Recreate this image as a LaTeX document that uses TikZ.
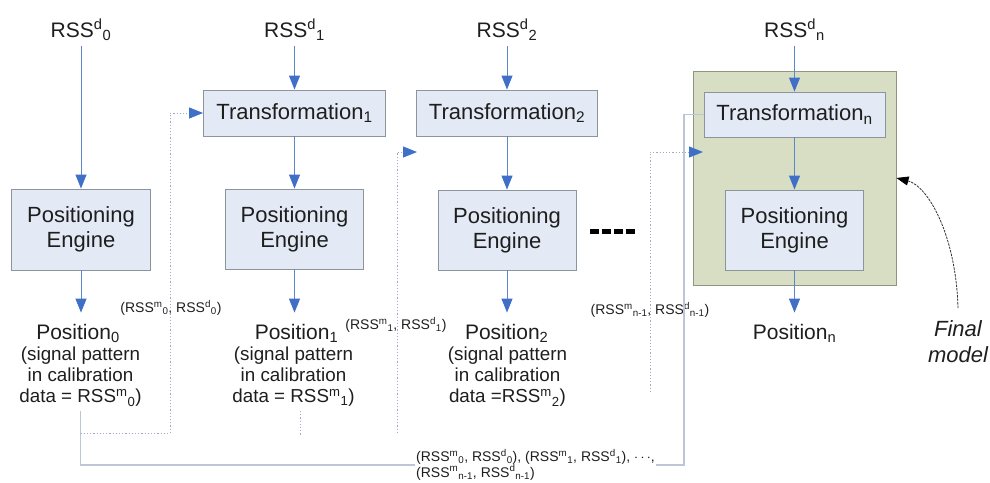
\documentclass[tikz,border=0pt]{standalone}
\usepackage{fontspec}
\setmainfont{Liberation Sans}
\usetikzlibrary{arrows.meta}
\definecolor{boxfill}{HTML}{E4EAF5}
\definecolor{boxline}{HTML}{8C949E}
\definecolor{greenfill}{HTML}{D8DEC4}
\definecolor{greenline}{HTML}{8E967E}
\definecolor{flowblue}{HTML}{5A86CC}
\definecolor{tipblue}{HTML}{3F6FC6}
\definecolor{routegray}{HTML}{BCC6D6}
\definecolor{dotgray}{HTML}{9DAAC6}
\definecolor{inkc}{HTML}{1E1E1E}
\begin{document}
\begin{tikzpicture}[x=1pt,y=-1pt,
  every node/.style={text=inkc},
  box/.style={draw=boxline, fill=boxfill, line width=0.9pt, inner sep=0pt, align=center, font=\fontsize{22}{25}\selectfont},
  greenbox/.style={draw=greenline, fill=greenfill, line width=1pt, inner sep=0pt},
  rss/.style={inner sep=0pt, anchor=base, font=\fontsize{21}{24}\selectfont},
  poslabel/.style={inner sep=0pt, anchor=base, font=\fontsize{21}{24}\selectfont},
  desc/.style={inner sep=0pt, anchor=north, align=center, font=\fontsize{18.8}{21}\selectfont},
  pair/.style={inner sep=0pt, font=\fontsize{14}{17}\selectfont},
  flow/.style={draw=flowblue, line width=1pt, -{Triangle[length=14pt,width=11pt,color=tipblue]}},
  route/.style={draw=routegray, line width=1.3pt},
  dotroute/.style={draw=dotgray, line width=1pt, dash pattern=on 1.2pt off 2pt},
  dotarrow/.style={dotroute, -{Triangle[length=14pt,width=11pt,color=tipblue]}},
  finalarrow/.style={draw=black!80, line width=0.8pt, dash pattern=on 2.5pt off 1pt, -{Triangle[length=12pt,width=9pt,color=black]}}
]
\useasboundingbox (0,0) rectangle (990,482);

% final model frame
\node[greenbox, minimum width=203pt, minimum height=214pt] (green) at (794.5,178) {};

% processing boxes
\node[box, minimum width=139pt, minimum height=81pt] (pe0) at (81,229.5) {Positioning\\Engine};
\node[box, minimum width=182pt, minimum height=46pt] (tr1) at (294.5,113) {Transformation\textsubscript{1}};
\node[box, minimum width=138pt, minimum height=80pt] (pe1) at (294.5,229) {Positioning\\Engine};
\node[box, minimum width=181pt, minimum height=46pt] (tr2) at (507,113) {Transformation\textsubscript{2}};
\node[box, minimum width=138pt, minimum height=80pt] (pe2) at (507,230) {Positioning\\Engine};
\node[box, minimum width=181pt, minimum height=45pt] (trn) at (794.5,114.5) {Transformation\textsubscript{n}};
\node[box, minimum width=138pt, minimum height=80pt] (pen) at (794.5,230) {Positioning\\Engine};

% inputs
\node[rss] (rss0) at (81,37.5) {RSS\textsuperscript{d}\textsubscript{0}};
\node[rss] (rss1) at (294.5,37.5) {RSS\textsuperscript{d}\textsubscript{1}};
\node[rss] (rss2) at (507,37.5) {RSS\textsuperscript{d}\textsubscript{2}};
\node[rss] (rssn) at (794.5,37.5) {RSS\textsuperscript{d}\textsubscript{n}};

% outputs
\node[poslabel] (pos0) at (78,339) {Position\textsubscript{0}};
\node[poslabel] (pos1) at (296.5,339) {Position\textsubscript{1}};
\node[poslabel] (pos2) at (506.7,339) {Position\textsubscript{2}};
\node[poslabel] (posn) at (794.5,339) {Position\textsubscript{n}};
\node[desc] (desc0) at (80.5,347) {(signal pattern\\in calibration\\data = RSS\textsuperscript{m}\textsubscript{0})};
\node[desc] (desc1) at (293.5,347) {(signal pattern\\in calibration\\data = RSS\textsuperscript{m}\textsubscript{1})};
\node[desc] (desc2) at (507.5,347) {(signal pattern\\in calibration\\data =RSS\textsuperscript{m}\textsubscript{2})};

% pair labels
\node[pair] (pl0) at (171,308) {(RSS\textsuperscript{m}\textsubscript{0}, RSS\textsuperscript{d}\textsubscript{0})};
\node[pair] (pl1) at (396,325) {(RSS\textsuperscript{m}\textsubscript{1}, RSS\textsuperscript{d}\textsubscript{1})};
\node[pair] (pln) at (650,310) {(RSS\textsuperscript{m}\textsubscript{n-1}, RSS\textsuperscript{d}\textsubscript{n-1})};

% ellipsis
\node[minimum width=45pt, minimum height=5pt, inner sep=0pt,
  path picture={\draw[black, line width=5pt, dash pattern=on 9pt off 3pt]
    (path picture bounding box.west) -- (path picture bounding box.east);}] (ellipsis) at (612.5,231) {};

% final model label
\node[inner sep=0pt, anchor=north, align=center, font=\fontsize{22}{26}\itshape\selectfont] (fm) at (958,320) {Final\\model};

% main flow arrows
\draw[flow, shorten <=5pt] (rss0.south) -- (pe0.north);
\draw[flow, shorten <=5pt] (rss1.south) -- (tr1.north);
\draw[flow] (tr1.south) -- (pe1.north);
\draw[flow, shorten <=5pt] (rss2.south) -- (tr2.north);
\draw[flow] (tr2.south) -- (pe2.north);
\draw[flow, shorten <=5pt] (rssn.south) -- (trn.north);
\draw[flow] (trn.south) -- (pen.north);
\draw[flow, shorten >=11pt] (pe0.south) -- (pe0.south |- pos0.north);
\draw[flow, shorten >=11pt] (pe1.south) -- (pe1.south |- pos1.north);
\draw[flow, shorten >=11pt] (pe2.south) -- (pe2.south |- pos2.north);
\draw[flow, shorten >=11pt] (pen.south) -- (pen.south |- posn.north);

% accumulated calibration data route
\coordinate (rc) at (684,465);
\draw[route, shorten <=4pt] (desc0.south) |- (rc) |- (trn.west);

% dotted feedback routes
\coordinate (b0) at (80.5,433);
\coordinate (j0) at (170,300);
\draw[dotarrow] (b0) -| (j0 |- tr1.west) -- (tr1.west);
\coordinate (k1a) at (300,411);
\coordinate (k1b) at (300,435);
\draw[dotroute] (k1a) -- (k1b);
\coordinate (k2) at (397,433);
\coordinate (t2) at (417,152);
\draw[dotarrow] (k2) |- (t2);
\coordinate (mn) at (650,392);
\coordinate (tn) at (703,152);
\draw[dotarrow] (mn) |- (tn);

% final model pointer
\draw[finalarrow] ([yshift=12pt]fm.north) .. controls (956,235) and (928,186) .. (green.east);

% list of all pairs
\node[pair, fill=white, align=left, anchor=north west, inner sep=1pt, font=\fontsize{14}{15.5}\selectfont] (allpairs) at (415,448)
  {(RSS\textsuperscript{m}\textsubscript{0}, RSS\textsuperscript{d}\textsubscript{0}), (RSS\textsuperscript{m}\textsubscript{1}, RSS\textsuperscript{d}\textsubscript{1}), $\cdots$,\\(RSS\textsuperscript{m}\textsubscript{n-1}, RSS\textsuperscript{d}\textsubscript{n-1})};
\end{tikzpicture}
\end{document}
